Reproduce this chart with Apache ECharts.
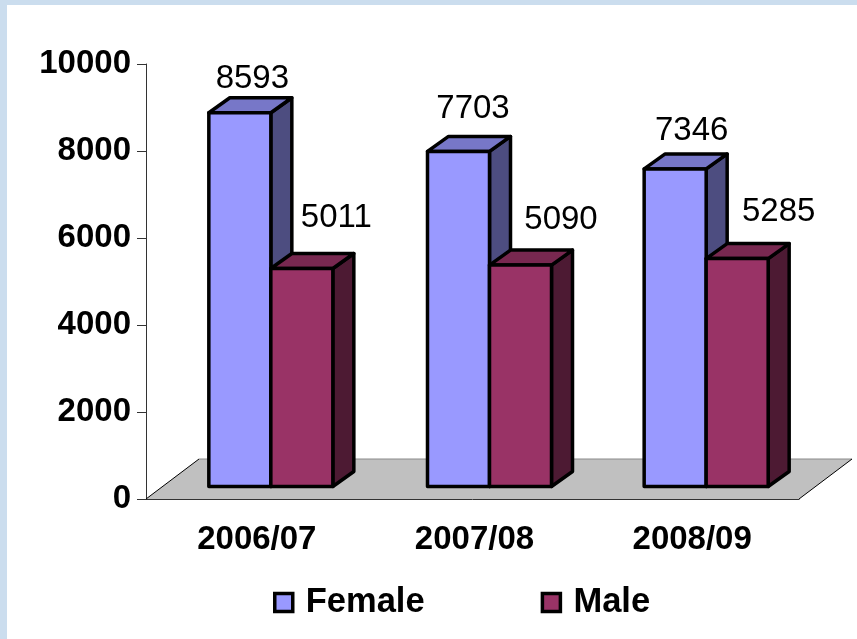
<!DOCTYPE html>
<html>
<head>
<meta charset="utf-8">
<style>
html,body{margin:0;padding:0;background:#CBDDEE;width:857px;height:639px;overflow:hidden}
#paper{position:absolute;left:7px;top:5px;width:850px;height:634px;background:#fff}
#main{position:absolute;left:0;top:0;width:857px;height:639px}
</style>
<script src="https://cdn.jsdelivr.net/npm/echarts@6/dist/echarts.min.js"></script>
</head>
<body>
<div id="paper"></div>
<div id="main"></div>
<script>
const categories = ['2006/07', '2007/08', '2008/09'];
const female = [8593, 7703, 7346];
const male = [5011, 5090, 5285];
const yTicks = [0, 2000, 4000, 6000, 8000, 10000];

// Presentation constants (pixels)
const BAR_W = 62, BAR_SHIFT = 16, BASE_LIFT = 12.5;
const DEPTH_X = 21, DEPTH_Y = 15, FLOOR_X = 53, FLOOR_Y = 40;
const FONT = '"Liberation Sans", Arial, sans-serif';
const groupShift = [0, 1, 0];
const topLift = [0, 0, -2];
const femaleLabelNudge = [[-4, 2], [-2, -7], [0, -2]];
const maleLabelNudge = [[18, -15], [24, -9], [25, -11]];

const palette = {
  Female: {front: '#9999FF', top: '#7777C8', side: '#4D4D80'},
  Male: {front: '#993366', top: '#782850', side: '#4D1A33'}
};

function barRenderer(name, side, nudges) {
  const c = palette[name];
  return function (params, api) {
    const i = params.dataIndex;
    const p0 = api.coord([api.value(0), 0]);
    const p1 = api.coord([api.value(0), api.value(1)]);
    const cx = p0[0] + BAR_SHIFT + groupShift[i];
    const x0 = side < 0 ? cx - BAR_W : cx;
    const x1 = x0 + BAR_W;
    const yb = p0[1] - BASE_LIFT, yt = p1[1] - BASE_LIFT - topLift[i];
    const stroke = {stroke: '#000', lineWidth: 3.5, lineJoin: 'round'};
    const poly = (pts, fill) => ({type: 'polygon', shape: {points: pts},
      style: Object.assign({fill: fill}, stroke)});
    const n = nudges[i];
    return {type: 'group', children: [
      poly([[x1, yb], [x1 + DEPTH_X, yb - DEPTH_Y], [x1 + DEPTH_X, yt - DEPTH_Y], [x1, yt]], c.side),
      poly([[x0, yt], [x0 + DEPTH_X, yt - DEPTH_Y], [x1 + DEPTH_X, yt - DEPTH_Y], [x1, yt]], c.top),
      poly([[x0, yb], [x0, yt], [x1, yt], [x1, yb]], c.front),
      {type: 'text', style: {
        text: String(api.value(1)),
        x: (x0 + x1) / 2 + DEPTH_X / 2 + 6 + n[0],
        y: yt - 36 + n[1],
        align: 'center', verticalAlign: 'middle',
        font: '33px ' + FONT, fill: '#000'}}
    ]};
  };
}

function floorRenderer(params) {
  const g = params.coordSys;
  const l = g.x, r = g.x + g.width, b = g.y + g.height;
  const line = (a, c, col) => ({type: 'line', shape: {x1: a[0], y1: a[1], x2: c[0], y2: c[1]},
    style: {stroke: col, lineWidth: 1}});
  const A = [l, b], B = [l + FLOOR_X, b - FLOOR_Y], C = [r + FLOOR_X, b - FLOOR_Y], D = [r, b];
  return {type: 'group', children: [
    {type: 'polygon', shape: {points: [A, B, C, D]}, style: {fill: '#C0C0C0'}},
    line(A, B, '#000'), line(B, C, '#8a8a8a'), line(C, D, '#000')
  ]};
}

const chart = echarts.init(document.getElementById('main'), null, {renderer: 'canvas'});
chart.setOption({
  animation: false,
  backgroundColor: 'transparent',
  textStyle: {fontFamily: FONT},
  grid: {left: 146, right: 58, top: 64, bottom: 140, containLabel: false},
  legend: {
    data: ['Female', 'Male'], left: 268, top: 580, itemWidth: 18, itemHeight: 18, itemGap: 116,
    icon: 'rect',
    itemStyle: {borderColor: '#000', borderWidth: 3.5},
    textStyle: {fontFamily: FONT, fontWeight: 'bold', fontSize: 34.5, color: '#000', padding: [2, 0, 0, 8]}
  },
  xAxis: {
    type: 'category', data: categories,
    axisLine: {lineStyle: {color: '#333', width: 1}},
    axisTick: {length: 9, lineStyle: {color: '#333'}},
    axisLabel: {margin: 24, color: '#000', fontFamily: FONT, fontWeight: 'bold', fontSize: 33, padding: [0, 0, 0, 4]}
  },
  yAxis: {
    type: 'value', min: yTicks[0], max: yTicks[yTicks.length - 1], interval: yTicks[1] - yTicks[0],
    splitLine: {show: false},
    axisLine: {show: true, lineStyle: {color: '#333', width: 1}},
    axisTick: {show: true, length: 9, lineStyle: {color: '#333'}},
    axisLabel: {margin: 15, color: '#000', fontFamily: FONT, fontWeight: 'bold', fontSize: 33, formatter: v => String(v)}
  },
  series: [
    {type: 'custom', name: 'Floor', renderItem: floorRenderer, data: [[0, 0]], encode: {x: 0, y: 1}, clip: false, z: 1, silent: true},
    {type: 'custom', name: 'Female', renderItem: barRenderer('Female', -1, femaleLabelNudge),
      data: female.map((v, i) => [i, v]), encode: {x: 0, y: 1}, clip: false, z: 3,
      itemStyle: {color: palette.Female.front}},
    {type: 'custom', name: 'Male', renderItem: barRenderer('Male', 1, maleLabelNudge),
      data: male.map((v, i) => [i, v]), encode: {x: 0, y: 1}, clip: false, z: 4,
      itemStyle: {color: palette.Male.front}}
  ]
});
</script>
</body>
</html>
